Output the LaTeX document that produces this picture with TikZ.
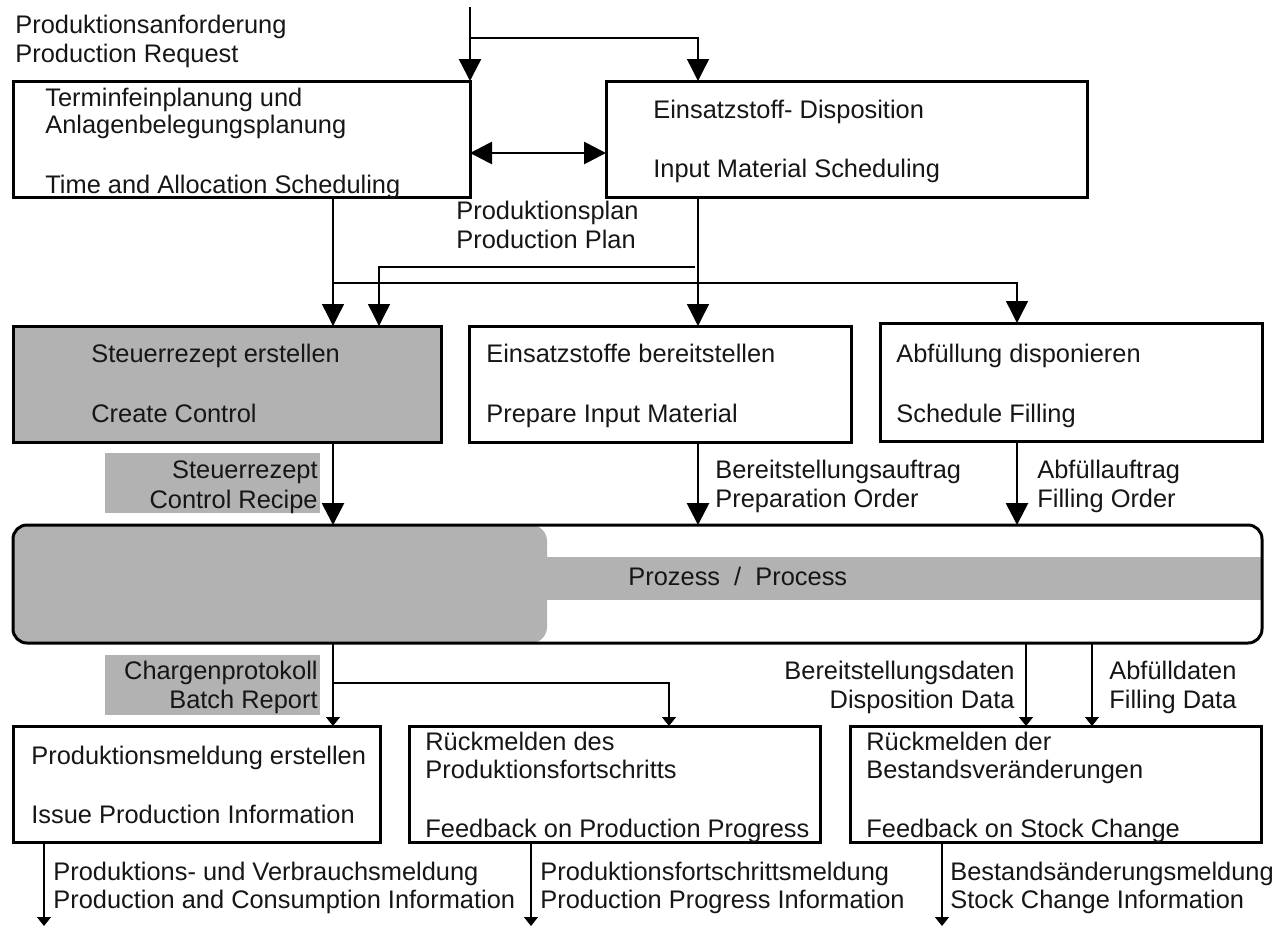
\documentclass[tikz,border=0pt]{standalone}
\usepackage{fontspec}
\setmainfont{Liberation Sans}
\usetikzlibrary{arrows.meta}
\definecolor{boxgray}{RGB}{178,178,178}
\definecolor{ink}{RGB}{22,22,22}
\begin{document}
\begin{tikzpicture}[x=0.5pt,y=-0.5pt,
  every node/.style={font=\fontsize{12.7pt}{14.5pt}\selectfont, text=ink},
  box/.style={draw=black, line width=1.5pt, anchor=north west, inner sep=0pt, outer sep=0pt},
  txt/.style={anchor=base west, inner sep=0pt},
  txtr/.style={anchor=base east, inner sep=0pt},
  graylab/.style={fill=boxgray, anchor=north west, inner sep=0pt, outer sep=0pt, minimum width=107.5pt, minimum height=30pt},
  bigtip/.style={-{Triangle[length=11pt,width=11pt]}},
  bothtips/.style={{Triangle[length=11pt,width=11pt]}-{Triangle[length=11pt,width=11pt]}},
  smalltip/.style={-{Triangle[length=4.5pt,width=7pt]}},
  thinline/.style={line width=0.7pt},
  heavyline/.style={line width=1.4pt},
]
\useasboundingbox (0,0) rectangle (1280,927);

% ---------- planning boxes ----------
\node[box, minimum width=228.5pt, minimum height=58pt] (b1) at (13,81) {};
\node[box, minimum width=240.5pt, minimum height=58pt] (b2) at (606,81) {};
\node[box, fill=boxgray, minimum width=214pt, minimum height=58pt] (b3) at (13,326) {};
\node[box, minimum width=191pt, minimum height=58pt] (b4) at (469,326) {};
\node[box, minimum width=191pt, minimum height=59pt] (b5) at (880,323) {};

% ---------- process ----------
\fill[boxgray, rounded corners=8pt] (13,525) rectangle (547,643);
\fill[boxgray] (530,557) rectangle (1262,600);
\node[box, rounded corners=7pt, minimum width=624.5pt, minimum height=59pt] (proc) at (13,525) {};
\node[txt] (proct) at (628,585) {Prozess\ \ /\ \ Process};

% ---------- feedback boxes ----------
\node[box, minimum width=183.5pt, minimum height=58pt] (b6) at (13,726) {};
\node[box, minimum width=205.5pt, minimum height=58pt] (b7) at (409,726) {};
\node[box, minimum width=205.5pt, minimum height=58pt] (b8) at (850,726) {};

% ---------- shaded flow labels ----------
\node[graylab] (g1) at (105,453) {};
\node[graylab] (g2) at (105,655) {};

% ---------- box texts ----------
\node[txt] (b1a) at (45,106) {Terminfeinplanung und};
\node[txt] (b1b) at (45,133) {Anlagenbelegungsplanung};
\node[txt] (b1c) at (45,193) {Time and Allocation Scheduling};
\node[txt] (b2a) at (653,118) {Einsatzstoff- Disposition};
\node[txt] (b2b) at (653,177) {Input Material Scheduling};
\node[txt] (b3a) at (91,362) {Steuerrezept erstellen};
\node[txt] (b3b) at (91,422) {Create Control};
\node[txt] (b4a) at (486,362) {Einsatzstoffe bereitstellen};
\node[txt] (b4b) at (486,422) {Prepare Input Material};
\node[txt] (b5a) at (896,362) {Abfüllung disponieren};
\node[txt] (b5b) at (896,422) {Schedule Filling};
\node[txt] (b6a) at (31,764) {Produktionsmeldung erstellen};
\node[txt] (b6b) at (31,823) {Issue Production Information};
\node[txt] (b7a) at (425,750) {Rückmelden des};
\node[txt] (b7b) at (425,778) {Produktionsfortschritts};
\node[txt] (b7c) at (425,837) {Feedback on Production Progress};
\node[txt] (b8a) at (866,750) {Rückmelden der};
\node[txt] (b8b) at (866,778) {Bestandsveränderungen};
\node[txt] (b8c) at (866,837) {Feedback on Stock Change};

% ---------- flow labels ----------
\node[txt] (reqa) at (15,33) {Produktionsanforderung};
\node[txt] (reqb) at (15,62) {Production Request};
\node[txt] (plna) at (456,219) {Produktionsplan};
\node[txt] (plnb) at (456,248) {Production Plan};
\node[txtr] (g1a) at (318,478) {Steuerrezept};
\node[txtr] (g1b) at (318,508) {Control Recipe};
\node[txt] (prpa) at (715,478) {Bereitstellungsauftrag};
\node[txt] (prpb) at (715,507) {Preparation Order};
\node[txt] (fila) at (1037,478) {Abfüllauftrag};
\node[txt] (filb) at (1037,507) {Filling Order};
\node[txtr] (g2a) at (318,679) {Chargenprotokoll};
\node[txtr] (g2b) at (318,708) {Batch Report};
\node[txtr] (dspa) at (1015,679) {Bereitstellungsdaten};
\node[txtr] (dspb) at (1015,708) {Disposition Data};
\node[txt] (fdta) at (1109,679) {Abfülldaten};
\node[txt] (fdtb) at (1109,708) {Filling Data};
\node[txt] (out1a) at (53,880) {Produktions- und Verbrauchsmeldung};
\node[txt] (out1b) at (53,908) {Production and Consumption Information};
\node[txt] (out2a) at (540,880) {Produktionsfortschrittsmeldung};
\node[txt] (out2b) at (540,908) {Production Progress Information};
\node[txt] (out3a) at (950,880) {Bestandsänderungsmeldung};
\node[txt] (out3b) at (950,908) {Stock Change Information};

% ---------- connector reference points ----------
\coordinate (inp) at (470,7);
\coordinate (j1) at (470,38);
\coordinate (da) at (0,153);
\coordinate (j2) at (695,267);
\coordinate (h283) at (0,283);
\coordinate (h683) at (0,683);
\coordinate (bot) at (0,926);
\coordinate (c44) at (44,0);
\coordinate (c333) at (333,0);
\coordinate (c379) at (379,0);
\coordinate (c531) at (531,0);
\coordinate (c669) at (669,0);
\coordinate (c698) at (698,0);
\coordinate (c942) at (942,0);
\coordinate (c1017) at (1017,0);
\coordinate (c1026) at (1026,0);
\coordinate (c1092) at (1092,0);

% ---------- connectors ----------
\draw[line width=1.2pt, bigtip] (inp) -- (b1.north east);
\draw[thinline, bigtip] (j1) -| (c698 |- b2.north);
\draw[heavyline, bothtips] (b1.east |- da) -- (b2.west |- da);
\draw[thinline, bigtip] (c333 |- b1.south) -- (c333 |- b3.north);
\draw[thinline, bigtip] (c333 |- h283) -| (c1017 |- b5.north);
\draw[thinline, bigtip] (j2) -| (c379 |- b3.north);
\draw[thinline, bigtip] (c698 |- b2.south) -- (c698 |- b4.north);
\draw[heavyline, bigtip] (c333 |- b3.south) -- (c333 |- proc.north);
\draw[heavyline, bigtip] (c698 |- b4.south) -- (c698 |- proc.north);
\draw[heavyline, bigtip] (c1017 |- b5.south) -- (c1017 |- proc.north);
\draw[thinline, smalltip] (c333 |- proc.south) -- (c333 |- b6.north);
\draw[thinline, smalltip] (c333 |- h683) -| (c669 |- b7.north);
\draw[thinline, smalltip] (c1026 |- proc.south) -- (c1026 |- b8.north);
\draw[thinline, smalltip] (c1092 |- proc.south) -- (c1092 |- b8.north);
\draw[thinline, smalltip] (c44 |- b6.south) -- (c44 |- bot);
\draw[thinline, smalltip] (c531 |- b7.south) -- (c531 |- bot);
\draw[thinline, smalltip] (c942 |- b8.south) -- (c942 |- bot);
\end{tikzpicture}
\end{document}
